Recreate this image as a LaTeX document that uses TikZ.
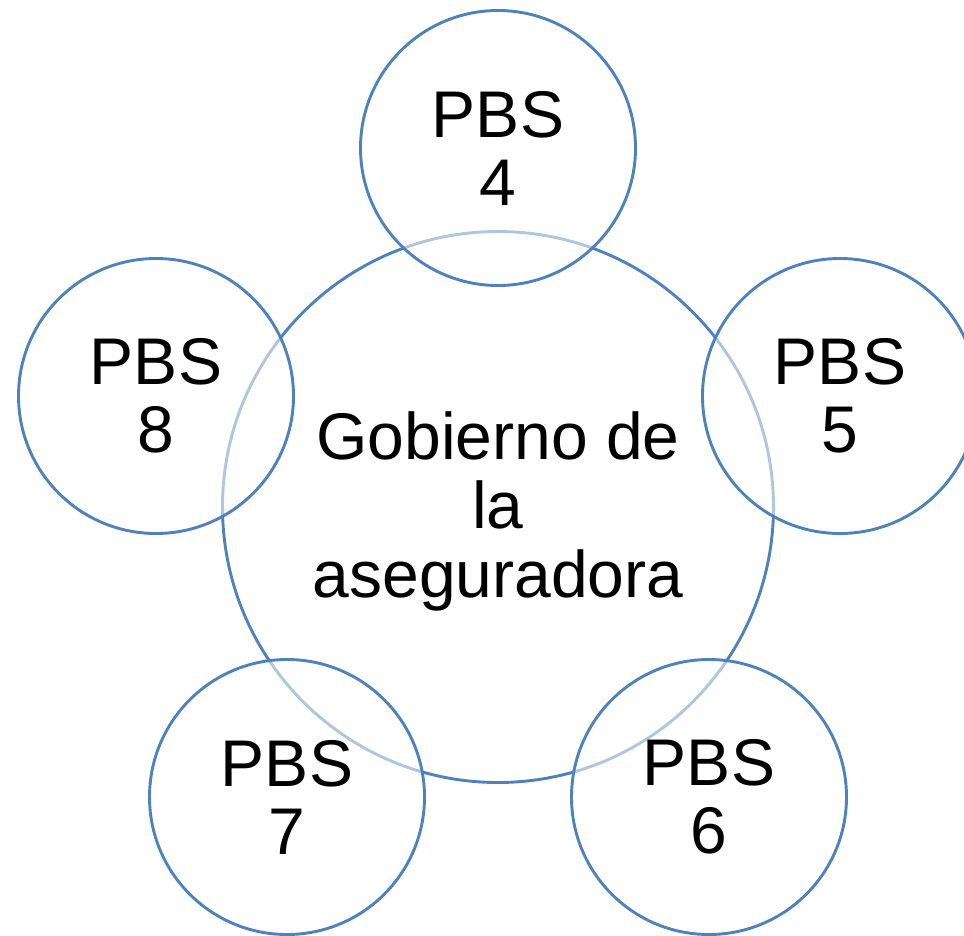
\documentclass[tikz,border=0pt]{standalone}
\usepackage{fontspec}
\setmainfont{Liberation Sans}
\definecolor{ringblue}{RGB}{79,129,189}
\begin{document}
\begin{tikzpicture}[x=1pt,y=-1pt,
  bigring/.style={circle,draw=ringblue,line width=2.9pt,fill=white,minimum size=551pt,inner sep=0pt},
  bigtext/.style={align=center,inner sep=0pt,font=\fontsize{66}{69}\selectfont},
  smallring/.style={circle,draw=ringblue,line width=2.9pt,fill=white,fill opacity=0.55,text opacity=1,minimum size=275pt,inner sep=0pt,align=center,font=\fontsize{66}{68}\selectfont}]
\useasboundingbox (0,0) rectangle (964,935);
\clip (0,0) rectangle (964,935);
\node[bigring] (c) at (498,507) {};
\node[bigtext] (ctext) at (498,511) {Gobierno de\\la\\aseguradora};
\node[smallring] (p4) at (498,148) {PBS\\4};
\node[smallring] (p5) at (840,396) {PBS\\5};
\node[smallring] (p6) at (709,797) {PBS\\6};
\node[smallring] (p7) at (287,797) {PBS\\7};
\node[smallring] (p8) at (156,396) {PBS\\8};
\end{tikzpicture}
\end{document}
